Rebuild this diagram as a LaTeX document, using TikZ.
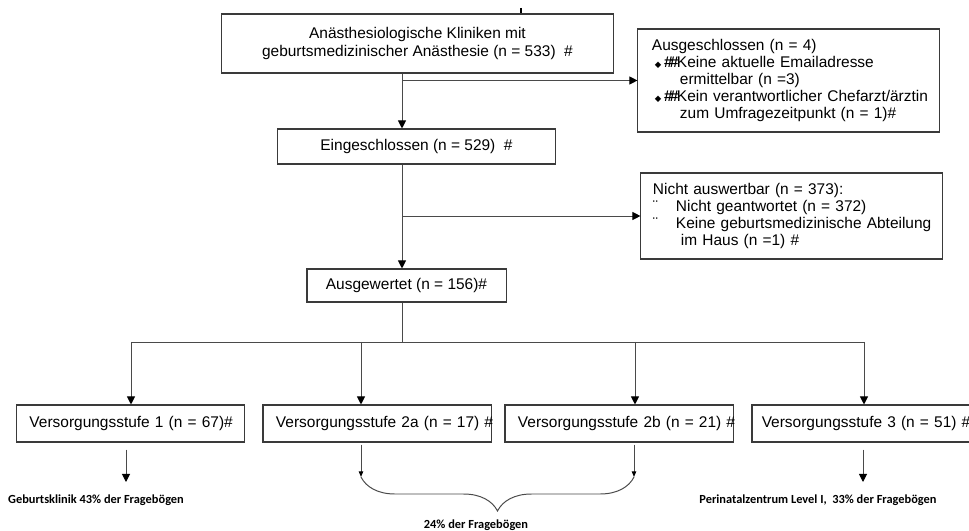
\documentclass[tikz,border=0pt]{standalone}
\usepackage{fontspec}
\setmainfont{Liberation Sans}
\newfontfamily\notefont{Carlito}
\newfontfamily\symbfont{DejaVu Sans}
\usepackage{tikz}
\usetikzlibrary{arrows.meta,decorations.pathreplacing}
\usepackage{xcolor}
\definecolor{linegray}{HTML}{4A4A4A}
\definecolor{framegray}{HTML}{3A3A3A}
\tikzset{
  block/.style={draw=framegray, line width=0.75pt, fill=white, align=center, inner sep=0pt},
  sideblock/.style={block, align=left, inner xsep=0.3cm},
  levelblock/.style={block, align=left, inner xsep=0.325cm, text width=5.05cm, minimum height=0.925cm},
  flow/.style={-{Triangle[length=2mm, width=2mm, color=black]}, line width=0.7pt, draw=linegray},
  smallflow/.style={-{Triangle[length=1.4mm, width=1.1mm, color=black]}, line width=0.7pt, draw=linegray},
  plain/.style={line width=0.7pt, draw=linegray},
  note/.style={font=\notefont\bfseries\fontsize{8.8}{10.5}\selectfont}
}
\newcommand{\itemmark}{\makebox[0.55cm][l]{{\symbfont\fontsize{6}{6}\selectfont ◆}\,{\bfseries\#\kern-2pt\#}}}
\begin{document}
\begin{tikzpicture}[font=\fontsize{11}{12.1}\selectfont, x=0.025cm, y=-0.025cm]
  \useasboundingbox (0,0) rectangle (969,531);

  \node[block, minimum width=9.775cm, minimum height=1.475cm] (kliniken) at (417.5,43.5)
    {Anästhesiologische Kliniken mit\\geburtsmedizinischer Anästhesie (n = 533)~~\#};
  \node[sideblock, inner xsep=0.35cm, text width=6.825cm, minimum height=2.575cm] (ausgeschl) at (788.5,80.5)
    {\mbox{Ausgeschlossen (n = 4)}\\
     \mbox{\hspace*{0.075cm}\itemmark Keine aktuelle Emailadresse}\\
     \mbox{\hspace*{0.7cm}ermittelbar (n =3)}\\
     \mbox{\hspace*{0.075cm}\itemmark Kein verantwortlicher Chefarzt/ärztin}\\
     \mbox{\hspace*{0.7cm}zum Umfragezeitpunkt (n = 1)\#}};
  \node[block, minimum width=6.925cm, minimum height=0.875cm] (eingeschl) at (416.5,146.5)
    {Eingeschlossen (n = 529)~~\#};
  \node[sideblock, text width=6.925cm, minimum height=2.15cm] (nicht) at (791.5,216)
    {\mbox{Nicht auswertbar (n = 373):}\\
     \mbox{\makebox[0.575cm][l]{¨}Nicht geantwortet (n = 372)}\\
     \mbox{\makebox[0.575cm][l]{¨}Keine geburtsmedizinische Abteilung}\\
     \mbox{\hspace*{0.7cm}im Haus (n =1) \#}};
  \node[block, minimum width=4.975cm, minimum height=0.825cm] (ausgewertet) at (406.5,285.5)
    {Ausgewertet (n = 156)\#};

  \node[levelblock] (stufe1) at (130.5,423.5) {\mbox{Versorgungsstufe 1 (n = 67)\#}};
  \node[levelblock] (stufe2a) at (377,423.5) {\mbox{Versorgungsstufe 2a (n = 17) \#}};
  \node[levelblock] (stufe2b) at (619,423.5) {\mbox{Versorgungsstufe 2b (n = 21) \#}};
  \node[levelblock] (stufe3) at (866,423.5) {\mbox{\hspace*{-0.08cm}Versorgungsstufe 3 (n = 51) \#}};

  \node[note] (klinik) at (96,500) {Geburtsklinik 43\% der Fragebögen};
  \node[note] (gemeinsam) at (476,525) {24\% der Fragebögen};
  \node[note] (perinatal) at (818,500) {Perinatalzentrum Level I,~~33\% der Fragebögen};

  \coordinate (tick) at (521,8);
  \coordinate (spine) at (402,0);
  \coordinate (bus) at (0,342);
  \coordinate (drop1) at (131,342);
  \coordinate (drop2a) at (361,342);
  \coordinate (drop2b) at (635,342);
  \coordinate (drop3) at (864,342);
  \coordinate (out1) at (126,482);
  \coordinate (out3) at (863,482);
  \coordinate (brace2a) at (361,477);
  \coordinate (brace2b) at (634,477);

  \draw[line width=1.5pt] (tick) -- (tick |- kliniken.north);
  \draw[flow] (kliniken.south -| spine) -- (eingeschl.north -| spine);
  \draw[flow] (ausgeschl.west -| spine) -- (ausgeschl.west);
  \draw[flow] (eingeschl.south -| spine) -- (ausgewertet.north -| spine);
  \draw[flow] (nicht.west -| spine) -- (nicht.west);
  \draw[plain] (ausgewertet.south -| spine) -- (bus -| spine);
  \draw[plain] (drop1) -- (drop3);
  \foreach \d/\n in {drop1/stufe1, drop2a/stufe2a, drop2b/stufe2b, drop3/stufe3}
    \draw[flow] (\d) -- (\d |- \n.north);

  \draw[flow, shorten <=1.75mm] (stufe1.south -| out1) -- (out1);
  \draw[flow, shorten <=1.75mm] (stufe3.south -| out3) -- (out3);
  \draw[smallflow, shorten <=0.5mm] (stufe2a.south -| brace2a) -- (brace2a);
  \draw[smallflow, shorten <=0.5mm] (stufe2b.south -| brace2b) -- (brace2b);
  \draw[plain, decorate, decoration={brace, amplitude=0.85cm, mirror}] (brace2a) -- (brace2b);
\end{tikzpicture}
\end{document}
